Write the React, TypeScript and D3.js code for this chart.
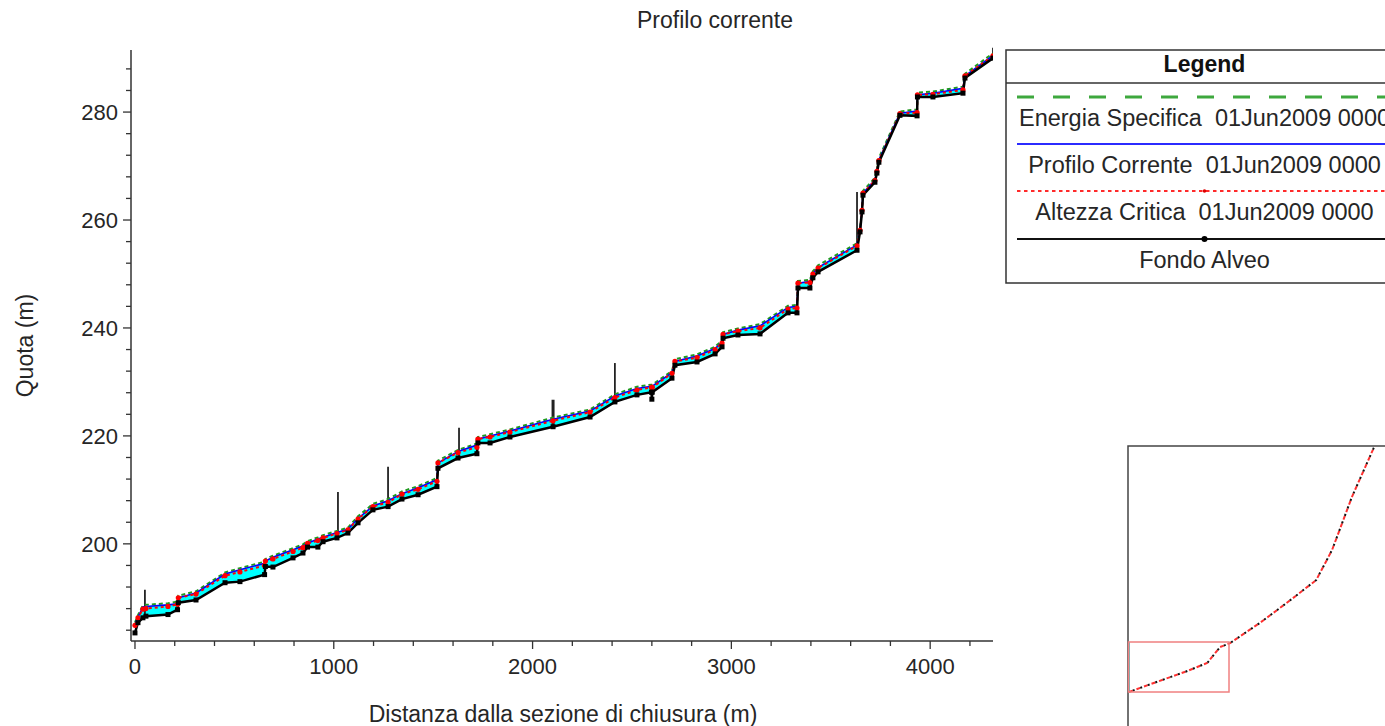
import * as d3 from "d3";

// distanza dalla sezione di chiusura (m)
const stations = [
  0, 15, 40, 55, 166, 214, 218, 307, 453, 528, 652, 656, 694, 795, 845, 868, 920, 946,
  1016, 1071, 1122, 1197, 1273, 1343, 1424, 1519, 1524, 1625, 1720, 1725, 1786, 1886,
  2103, 2289, 2414, 2525, 2598, 2600, 2602, 2701, 2716, 2827, 2918, 2953, 2958, 3033,
  3144, 3285, 3330, 3335, 3395, 3410, 3436, 3632, 3647, 3657, 3662, 3722, 3732, 3742,
  3848, 3934, 3936, 4014, 4165, 4175, 4316,
];

// Fondo Alveo
const bedElev = [
  183.5, 185.4, 186.3, 186.6, 186.9, 187.8, 189.1, 189.6, 192.8, 193.0, 194.3, 195.8, 195.7,
  197.4, 198.3, 199.4, 199.4, 200.4, 201.1, 202.0, 203.9, 206.3, 206.9, 208.3, 209.1, 210.6,
  214.0, 215.9, 216.7, 218.7, 218.7, 219.8, 221.7, 223.5, 226.3, 227.6, 228.1, 226.8, 228.1,
  230.7, 233.1, 233.7, 235.2, 236.5, 238.1, 238.7, 238.9, 242.8, 242.8, 247.4, 247.4, 249.3,
  250.4, 254.4, 257.8, 261.5, 264.6, 267.0, 268.7, 270.7, 279.4, 279.3, 282.8, 282.8, 283.5,
  286.3, 290.0,
];

// Profilo Corrente
const waterElev = [
  185.0, 186.4, 188.3, 188.4, 188.7, 188.9, 190.0, 190.9, 194.4, 195.2, 196.4, 196.8, 197.5,
  198.9, 199.6, 200.1, 200.9, 201.2, 202.1, 202.7, 204.7, 207.0, 208.0, 209.3, 210.4, 211.9,
  215.0, 217.1, 218.3, 219.4, 220.0, 220.9, 223.1, 224.6, 227.4, 228.8, 229.2, 229.2, 229.2,
  231.7, 233.8, 234.8, 236.2, 237.3, 238.8, 239.6, 240.4, 243.8, 244.0, 248.3, 248.6, 250.1,
  251.2, 255.4, 258.1, 261.8, 265.0, 267.4, 269.1, 271.1, 279.8, 280.2, 283.2, 283.5, 284.4,
  286.7, 290.5,
];

// Altezza Critica
const critElev = [
  184.9, 186.3, 187.9, 188.0, 188.4, 188.8, 190.0, 190.7, 194.1, 194.8, 196.0, 196.8, 197.2,
  198.6, 199.3, 200.1, 200.6, 201.1, 201.9, 202.6, 204.6, 206.9, 207.7, 209.2, 210.1, 211.6,
  215.0, 216.9, 217.9, 219.4, 219.8, 220.7, 222.8, 224.4, 227.1, 228.5, 229.0, 229.0, 229.0,
  231.6, 233.8, 234.5, 236.0, 237.2, 238.8, 239.4, 240.0, 243.5, 243.7, 248.3, 248.4, 250.0,
  251.1, 255.2, 258.1, 261.8, 265.0, 267.3, 269.0, 271.0, 279.7, 279.9, 283.2, 283.3, 284.1,
  286.7, 290.4,
];

// Energia Specifica
const energyElev = [
  185.4, 186.8, 188.6, 188.7, 189.0, 189.3, 190.4, 191.2, 194.7, 195.5, 196.7, 197.2, 197.8,
  199.2, 199.9, 200.5, 201.2, 201.6, 202.4, 203.0, 205.1, 207.4, 208.3, 209.7, 210.7, 212.2,
  215.4, 217.4, 218.6, 219.8, 220.3, 221.2, 223.4, 224.9, 227.7, 229.1, 229.5, 229.5, 229.5,
  232.0, 234.2, 235.1, 236.5, 237.7, 239.2, 239.9, 240.7, 244.1, 244.3, 248.7, 248.9, 250.5,
  251.6, 255.7, 258.5, 262.2, 265.4, 267.8, 269.5, 271.5, 280.1, 280.5, 283.6, 283.8, 284.7,
  287.1, 290.9,
];

// ponti / strutture
const bridgeStations = [50, 1021, 1273, 1630, 2103, 2414, 3632, 4316];
const bridgeBase = [186.5, 201.2, 206.9, 216.0, 221.7, 226.3, 254.4, 290.0];
const bridgeTop = [191.5, 209.6, 214.3, 221.5, 226.7, 233.5, 265.2, 291.9];

// profilo completo (finestra panoramica)
const overviewDist = [0, 1068, 2521, 3376, 3932, 4359, 5641, 6795, 8077, 8761, 9615, 10556, 11200];
const overviewElev = [182, 201.7, 228, 245.5, 280.5, 289, 333, 376.7, 427, 492.7, 608.7, 716, 790];

const xTicks = [0, 1000, 2000, 3000, 4000];
const yTicks = [200, 220, 240, 260, 280];

const legendLabels = [
  "Energia Specifica  01Jun2009 0000",
  "Profilo Corrente  01Jun2009 0000",
  "Altezza Critica  01Jun2009 0000",
  "Fondo Alveo",
];

const FONT = "'Liberation Sans', Arial, sans-serif";
const TXT = "#262626";

export default function App() {
  const W = 1385;
  const H = 726;
  const plot = { left: 131, right: 993, top: 50, bottom: 641 };

  const x = d3.scaleLinear().domain([-20, 4316]).range([plot.left, plot.right]);
  const y = d3.scaleLinear().domain([182, 291.5]).range([plot.bottom, plot.top]);

  const idx = d3.range(stations.length);
  const lineOf = (vals: number[]) =>
    d3.line<number>().x(i => x(stations[i])).y(i => y(vals[i]))(idx) || "";
  const area = d3
    .area<number>()
    .x(i => x(stations[i]))
    .y0(i => y(bedElev[i]))
    .y1(i => y(waterElev[i]))(idx) || "";

  const minorY = d3.range(184, 291, 4).filter(v => v % 20 !== 0);
  const minorX = d3.range(200, 4316, 200).filter(v => v % 1000 !== 0);

  // overview
  const ox = d3.scaleLinear().domain([-20, 4316]).range([1128.5, 1229]);
  const oy = d3.scaleLinear().domain([182, 291.5]).range([692, 642]);
  const oIdx = d3.range(overviewDist.length);
  const oLine = d3.line<number>().x(i => ox(overviewDist[i])).y(i => oy(overviewElev[i]))(oIdx) || "";

  const legX0 = 1006;
  const legX1 = 1403;
  const legC = (legX0 + legX1) / 2;
  const rowLineY = [97, 144, 191, 239];
  const rowTextY = [126, 173, 220, 268];

  return (
    <svg
      width={W}
      height={H}
      style={{ position: "absolute", left: 0, top: 0, background: "#fff" }}
      fontFamily={FONT}
    >
      <defs>
        <clipPath id="plotClip">
          <rect x={plot.left} y={plot.top - 5} width={plot.right - plot.left} height={plot.bottom - plot.top + 5} />
        </clipPath>
        <clipPath id="ovClip">
          <rect x={1128} y={446} width={300} height={320} />
        </clipPath>
      </defs>

      <text x={715} y={28} textAnchor="middle" fontSize={23} fill={TXT}>
        Profilo corrente
      </text>

      <g clipPath="url(#plotClip)">
        <path d={area} fill="#00ffff" stroke="none" />
        {bridgeStations.map((s, i) => (
          <line
            key={"b" + i}
            x1={x(s)}
            x2={x(s)}
            y1={y(bridgeBase[i])}
            y2={y(bridgeTop[i])}
            stroke="#222"
            strokeWidth={i === 4 ? 3 : 1.8}
          />
        ))}
        <path d={lineOf(energyElev)} fill="none" stroke="#1f9a1f" strokeWidth={2} strokeDasharray="4 3" />
        <path d={lineOf(waterElev)} fill="none" stroke="#0000ff" strokeWidth={1.6} />
        <path d={lineOf(critElev)} fill="none" stroke="#ff0000" strokeWidth={2} strokeDasharray="3 3" />
        <path d={lineOf(bedElev)} fill="none" stroke="#000" strokeWidth={2.5} />
        {idx.map(i => (
          <circle key={"c" + i} cx={x(stations[i])} cy={y(critElev[i])} r={2.6} fill="#ff0000" />
        ))}
        {idx.map(i => (
          <rect
            key={"d" + i}
            x={x(stations[i]) - 2.5}
            y={y(bedElev[i]) - 2.5}
            width={5}
            height={5}
            fill="#000"
          />
        ))}
      </g>

      {/* axes */}
      <line x1={plot.left} x2={plot.left} y1={plot.top} y2={plot.bottom} stroke="#333" strokeWidth={1.5} />
      <line x1={plot.left} x2={plot.right} y1={plot.bottom} y2={plot.bottom} stroke="#333" strokeWidth={1.5} />
      {yTicks.map(v => (
        <g key={"yt" + v}>
          <line x1={plot.left - 8} x2={plot.left} y1={y(v)} y2={y(v)} stroke="#333" strokeWidth={1.3} />
          <text x={plot.left - 13} y={y(v) + 8} textAnchor="end" fontSize={22} fill={TXT}>
            {v}
          </text>
        </g>
      ))}
      {minorY.map(v => (
        <line key={"ym" + v} x1={plot.left - 5} x2={plot.left} y1={y(v)} y2={y(v)} stroke="#333" strokeWidth={1.3} />
      ))}
      {xTicks.map(v => (
        <g key={"xt" + v}>
          <line x1={x(v)} x2={x(v)} y1={plot.bottom} y2={plot.bottom + 8} stroke="#333" strokeWidth={1.3} />
          <text x={x(v)} y={674} textAnchor="middle" fontSize={22} fill={TXT}>
            {v}
          </text>
        </g>
      ))}
      {minorX.map(v => (
        <line key={"xm" + v} x1={x(v)} x2={x(v)} y1={plot.bottom} y2={plot.bottom + 5} stroke="#333" strokeWidth={1.3} />
      ))}

      <text x={563} y={722} textAnchor="middle" fontSize={23} fill={TXT}>
        Distanza dalla sezione di chiusura (m)
      </text>
      <text transform={`translate(33,${(plot.top + plot.bottom) / 2}) rotate(-90)`} textAnchor="middle" fontSize={23} fill={TXT}>
        Quota (m)
      </text>

      {/* legend */}
      <rect x={legX0} y={50} width={legX1 - legX0} height={233} fill="#fff" stroke="#333" strokeWidth={1.5} />
      <line x1={legX0} x2={legX1} y1={83} y2={83} stroke="#333" strokeWidth={1.5} />
      <text x={legC} y={72} textAnchor="middle" fontSize={23} fontWeight="bold" fill="#111">
        Legend
      </text>
      <line x1={1017} x2={legX1} y1={rowLineY[0]} y2={rowLineY[0]} stroke="#3ea83e" strokeWidth={3} strokeDasharray="17 19" />
      <line x1={1017} x2={legX1} y1={rowLineY[1]} y2={rowLineY[1]} stroke="#2b2bff" strokeWidth={2} />
      <line x1={1017} x2={legX1} y1={rowLineY[2]} y2={rowLineY[2]} stroke="#ff2a2a" strokeWidth={2} strokeDasharray="3.5 3.5" />
      <circle cx={legC} cy={rowLineY[2]} r={1.8} fill="#d00" />
      <line x1={1017} x2={legX1} y1={rowLineY[3]} y2={rowLineY[3]} stroke="#111" strokeWidth={2} />
      <circle cx={legC} cy={rowLineY[3]} r={3} fill="#000" />
      {legendLabels.map((t, i) => (
        <text
          key={"lg" + i}
          x={legC}
          y={rowTextY[i]}
          textAnchor="middle"
          fontSize={23.5}
          fill={TXT}
          style={{ whiteSpace: "pre" }}
        >
          {t}
        </text>
      ))}

      {/* overview */}
      <rect x={1128} y={446} width={300} height={320} fill="#fff" stroke="#444" strokeWidth={1.5} />
      <g clipPath="url(#ovClip)">
        <path d={oLine} fill="none" stroke="#ff3030" strokeWidth={2} strokeDasharray="4 4" />
        <path d={oLine} fill="none" stroke="#111" strokeWidth={2} strokeDasharray="2 6" strokeDashoffset={-4} />
      </g>
      <line x1={1129} x2={1129} y1={oy(291.5)} y2={oy(184)} stroke="#3aa6a6" strokeWidth={1.5} />
      <rect
        x={ox(-20)}
        y={oy(291.5)}
        width={ox(4316) - ox(-20)}
        height={oy(182) - oy(291.5)}
        fill="none"
        stroke="#f08080"
        strokeWidth={1.5}
      />
    </svg>
  );
}
